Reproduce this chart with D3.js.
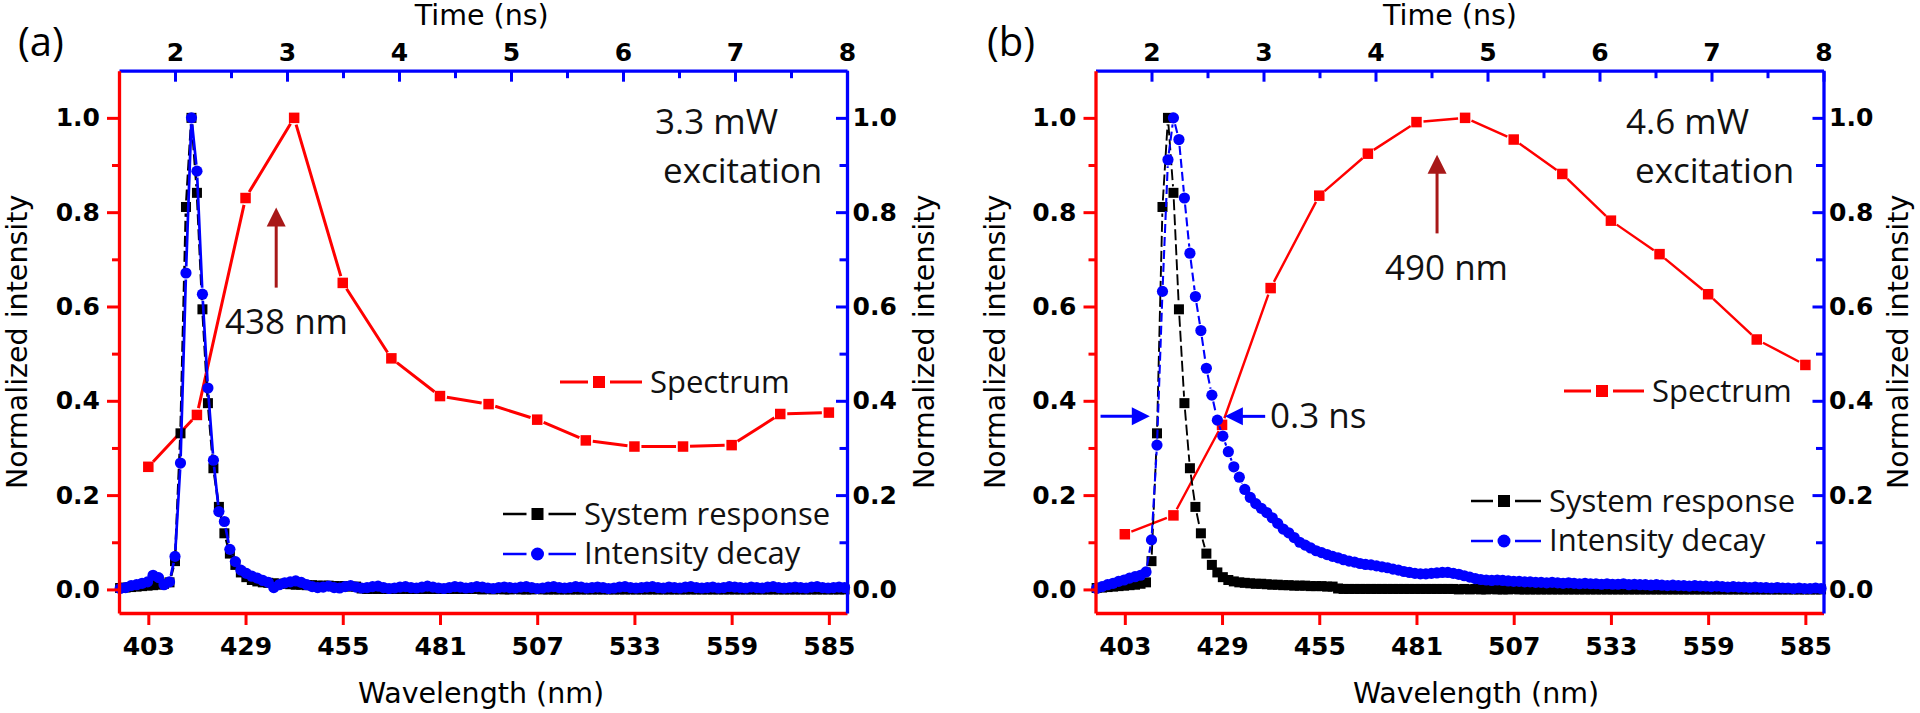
<!doctype html>
<html>
<head>
<meta charset="UTF-8">
<title>Spectrum and intensity decay</title>
<script src="https://d3js.org/d3.v7.min.js"></script>
<style>
  body { margin: 0; background: #fff; }
  svg { display: block; }
  .tick text { font-family: "DejaVu Sans", sans-serif; font-weight: bold; font-size: 25px; fill: #000; }
  .title { font-family: "DejaVu Sans", sans-serif; font-size: 28.5px; fill: #000; }
  .note { font-family: "Open Sans", sans-serif; font-size: 35px; fill: #111; }
  .legend { font-family: "Open Sans", sans-serif; font-size: 31px; fill: #111; }
  .tag { font-family: "Open Sans", sans-serif; font-size: 40px; fill: #000; }
</style>
</head>
<body>
<svg id="chart" width="1920" height="713"></svg>
<script>
// tick values
const wavelengthTicks = [403, 429, 455, 481, 507, 533, 559, 585];
const timeTicks = [2, 3, 4, 5, 6, 7, 8];
const timeMinorTicks = [2.5, 3.5, 4.5, 5.5, 6.5, 7.5];
const intensityTicks = [0, 0.2, 0.4, 0.6, 0.8, 1.0];
const intensityMinorTicks = [0.1, 0.3, 0.5, 0.7, 0.9];

// emission spectra (bottom wavelength axis)
const spectrumWavelength = [403, 416, 429, 442, 455, 468, 481, 494, 507, 520, 533, 546, 559, 572, 585];
const spectrumA = [0.26, 0.37, 0.83, 1.0, 0.65, 0.49, 0.41, 0.393, 0.36, 0.316, 0.303, 0.303, 0.306, 0.372, 0.375];
const spectrumB = [0.117, 0.157, 0.349, 0.639, 0.835, 0.924, 0.991, 1.0, 0.954, 0.881, 0.782, 0.711, 0.626, 0.530, 0.476];

// time-resolved traces (top time axis), sampled every decayStep ns
const decayStart = 1.51;
const decayStep = 0.049;
const systemResponse = [
  0.003, 0.004, 0.005, 0.006, 0.007, 0.008, 0.009, 0.010, 0.012, 0.015,
  0.060, 0.331, 0.811, 1.000, 0.841, 0.594, 0.395, 0.257, 0.175, 0.119,
  0.076, 0.052, 0.036, 0.026, 0.020, 0.017, 0.015, 0.014, 0.013, 0.012,
  0.012, 0.011, 0.010, 0.010, 0.009, 0.009, 0.008, 0.008, 0.008, 0.007,
  0.007, 0.007, 0.006, 0.006, 0.002, 0.001, 0.001, 0.001, 0.001, 0.001,
  0.001, 0.001, 0.001, 0.001, 0.001, 0.001, 0.001, 0.001, 0.001, 0.001,
  0.001, 0.001, 0.001, 0.001, 0.001, 0.001, 0.000, 0.001, 0.000, 0.001,
  0.000, 0.000, 0.001, 0.000, 0.000, 0.000, 0.001, 0.000, 0.000, 0.000,
  0.000, 0.000, 0.000, 0.000, 0.000, 0.000, 0.000, 0.000, 0.000, 0.000,
  0.000, 0.000, 0.000, 0.000, 0.000, 0.000, 0.000, 0.000, 0.000, 0.000,
  0.000, 0.000, 0.000, 0.000, 0.000, 0.000, 0.000, 0.000, 0.000, 0.000,
  0.000, 0.000, 0.000, 0.000, 0.000, 0.000, 0.000, 0.000, 0.000, 0.000,
  0.000, 0.000, 0.000, 0.000, 0.000, 0.000, 0.000, 0.000, 0.000, 0.000,
  0.000, 0.000, 0.000
];
const decayA = [
  0.002, 0.004, 0.008, 0.010, 0.013, 0.016, 0.030, 0.025, 0.010, 0.016,
  0.070, 0.268, 0.671, 1.000, 0.887, 0.626, 0.427, 0.274, 0.165, 0.144,
  0.085, 0.059, 0.041, 0.034, 0.028, 0.024, 0.019, 0.015, 0.004, 0.010,
  0.014, 0.016, 0.018, 0.015, 0.010, 0.006, 0.004, 0.005, 0.007, 0.004,
  0.003, 0.006, 0.008, 0.005, 0.003, 0.004, 0.006, 0.007, 0.004, 0.002,
  0.003, 0.005, 0.006, 0.004, 0.003, 0.005, 0.007, 0.005, 0.003, 0.002,
  0.004, 0.006, 0.005, 0.003, 0.004, 0.006, 0.005, 0.003, 0.002, 0.004,
  0.005, 0.004, 0.003, 0.005, 0.006, 0.004, 0.002, 0.003, 0.005, 0.006,
  0.004, 0.003, 0.004, 0.006, 0.005, 0.003, 0.004, 0.005, 0.004, 0.002,
  0.003, 0.005, 0.006, 0.004, 0.003, 0.004, 0.005, 0.006, 0.004, 0.003,
  0.005, 0.004, 0.003, 0.005, 0.006, 0.004, 0.003, 0.004, 0.005, 0.003,
  0.004, 0.006, 0.005, 0.004, 0.003, 0.005, 0.004, 0.003, 0.005, 0.006,
  0.004, 0.003, 0.004, 0.005, 0.004, 0.003, 0.005, 0.006, 0.004, 0.003,
  0.004, 0.005, 0.004
];
const decayB = [
  0.002, 0.006, 0.010, 0.013, 0.017, 0.020, 0.024, 0.027, 0.030, 0.037,
  0.105, 0.306, 0.632, 0.911, 1.000, 0.954, 0.830, 0.713, 0.621, 0.549,
  0.469, 0.412, 0.359, 0.325, 0.292, 0.260, 0.238, 0.212, 0.195, 0.182,
  0.172, 0.163, 0.152, 0.140, 0.128, 0.120, 0.110, 0.100, 0.094, 0.088,
  0.082, 0.078, 0.074, 0.070, 0.067, 0.063, 0.060, 0.058, 0.055, 0.053,
  0.052, 0.050, 0.048, 0.046, 0.043, 0.041, 0.038, 0.036, 0.034, 0.033,
  0.033, 0.034, 0.035, 0.036, 0.036, 0.034, 0.032, 0.029, 0.026, 0.023,
  0.021, 0.020, 0.019, 0.020, 0.019, 0.018, 0.017, 0.017, 0.016, 0.016,
  0.015, 0.015, 0.014, 0.015, 0.014, 0.013, 0.014, 0.013, 0.012, 0.013,
  0.012, 0.012, 0.011, 0.012, 0.011, 0.011, 0.012, 0.010, 0.011, 0.010,
  0.010, 0.009, 0.010, 0.009, 0.008, 0.009, 0.008, 0.008, 0.007, 0.008,
  0.007, 0.007, 0.006, 0.007, 0.006, 0.005, 0.006, 0.005, 0.005, 0.004,
  0.005, 0.004, 0.004, 0.003, 0.004, 0.003, 0.003, 0.002, 0.003, 0.002,
  0.002, 0.003, 0.002
];

const RED = "#ff0000", BLUE = "#0000ff", DARKRED = "#a81818";
const W = 728, H = 542.3, TOP = 70.7;

const panels = [
  {
    left: 119, tag: "(a)", tagX: 18, spectrum: spectrumA, decay: decayA,
    power: "3.3 mW", powerX: 655, exciteX: 663,
    peak: "438 nm", peakX: 225, peakY: 334,
    arrow: { wl: 437.2, from: 0.64, to: 0.81 },
    timeTitleX: 481.7, waveTitleX: 481, yTitleL: 27, yTitleR: 934,
    specLegend: { x0: 560, x1: 642, y: 382 },
    traceLegend: { x0: 503, x1: 576, y: 514 },
    lw: 3, blueDash: null
  },
  {
    left: 1095.5, tag: "(b)", tagX: 987, spectrum: spectrumB, decay: decayB,
    power: "4.6 mW", powerX: 1626, exciteX: 1635,
    peak: "490 nm", peakX: 1385, peakY: 280,
    arrow: { wl: 486.5, from: 0.755, to: 0.922 },
    timeTitleX: 1450, waveTitleX: 1476, yTitleL: 1005, yTitleR: 1908,
    specLegend: { x0: 1564, x1: 1644, y: 391 },
    traceLegend: { x0: 1471, x1: 1541, y: 501 },
    lw: 2.4, blueDash: "9,4",
    width: { y: 0.367, tipL: 1.985, tailL: 1.545, tipR: 2.655, tailR: 3.015, text: "0.3 ns", textX: 1270, textY: 428 }
  }
];

const svg = d3.select("#chart");

// line between neighbouring points, cut back near each symbol
function gapPath(pts, gap) {
  let d = "";
  for (let i = 0; i < pts.length - 1; i++) {
    const [x1, y1] = pts[i], [x2, y2] = pts[i + 1];
    const dx = x2 - x1, dy = y2 - y1, len = Math.hypot(dx, dy);
    if (len <= 2 * gap) continue;
    const ux = dx / len, uy = dy / len;
    d += `M${x1 + ux * gap},${y1 + uy * gap}L${x2 - ux * gap},${y2 - uy * gap}`;
  }
  return d;
}

function squares(g, pts, size, color) {
  g.selectAll(null).data(pts).enter().append("rect")
    .attr("x", d => d[0] - size / 2).attr("y", d => d[1] - size / 2)
    .attr("width", size).attr("height", size).attr("fill", color);
}

function circles(g, pts, r, color) {
  g.selectAll(null).data(pts).enter().append("circle")
    .attr("cx", d => d[0]).attr("cy", d => d[1]).attr("r", r).attr("fill", color);
}

function styleAxis(g, color) {
  g.attr("color", color);
  g.select(".domain").attr("stroke-width", 3.3);
  g.selectAll(".tick line").attr("stroke-width", 3);
}

function legendRow(x0, x1, y, color, lw, marker, label, textDy) {
  const mid = (x0 + x1) / 2 - 2, half = 6, gap = 5;
  svg.append("path")
    .attr("d", `M${x0},${y}L${mid - half - gap},${y}M${mid + half + gap},${y}L${x1},${y}`)
    .attr("stroke", color).attr("stroke-width", lw).attr("fill", "none");
  if (marker === "square") {
    svg.append("rect").attr("x", mid - half).attr("y", y - half)
      .attr("width", 2 * half).attr("height", 2 * half).attr("fill", color);
  } else {
    svg.append("circle").attr("cx", mid).attr("cy", y).attr("r", half + 0.5).attr("fill", color);
  }
  svg.append("text").attr("class", "legend")
    .attr("x", x1 + 8).attr("y", y + textDy).text(label);
}

function vArrow(x, yTail, yTip, color) {
  svg.append("line").attr("x1", x).attr("x2", x).attr("y1", yTail).attr("y2", yTip + 17)
    .attr("stroke", color).attr("stroke-width", 3);
  svg.append("path").attr("d", `M${x},${yTip}L${x - 9.5},${yTip + 19}L${x + 9.5},${yTip + 19}Z`)
    .attr("fill", color);
}

function hArrow(xTail, xTip, y, color) {
  const s = Math.sign(xTip - xTail);
  svg.append("line").attr("x1", xTail).attr("x2", xTip - s * 15).attr("y1", y).attr("y2", y)
    .attr("stroke", color).attr("stroke-width", 3);
  svg.append("path").attr("d", `M${xTip},${y}L${xTip - s * 18},${y - 9}L${xTip - s * 18},${y + 9}Z`)
    .attr("fill", color);
}

panels.forEach(p => {
  const x = d3.scaleLinear().domain([395.16, 589.85]).range([p.left, p.left + W]);
  const t = d3.scaleLinear().domain([1.5, 8]).range([p.left, p.left + W]);
  const y = d3.scaleLinear().domain([-0.05, 1.1]).range([TOP + H, TOP]);

  const specPts = spectrumWavelength.map((w, i) => [x(w), y(p.spectrum[i])]);
  const sysPts = systemResponse.map((v, i) => [t(decayStart + i * decayStep), y(v)]);
  const decPts = p.decay.map((v, i) => [t(decayStart + i * decayStep), y(v)]);

  const plot = svg.append("g");
  // spectrum
  plot.append("path").attr("d", gapPath(specPts, 7))
    .attr("stroke", RED).attr("stroke-width", p.lw).attr("fill", "none");
  squares(plot, specPts, 10.5, RED);
  // system response
  plot.append("path").attr("d", gapPath(sysPts, 6.5))
    .attr("stroke", "#000").attr("stroke-width", p.lw - 0.5).attr("stroke-dasharray", "11,4").attr("fill", "none");
  squares(plot, sysPts, 10, "#000");
  // intensity decay
  plot.append("path").attr("d", gapPath(decPts, 6.5))
    .attr("stroke", BLUE).attr("stroke-width", p.lw - 0.3).attr("stroke-dasharray", p.blueDash).attr("fill", "none");
  circles(plot, decPts, 5.6, BLUE);

  // axes: blue top/right for time trace, red left/bottom for spectrum
  const top = svg.append("g").attr("transform", `translate(0,${TOP})`);
  top.call(d3.axisTop(t).tickValues(timeMinorTicks).tickSize(-7.5).tickSizeOuter(0).tickFormat(""));
  top.select(".domain").remove();
  styleAxis(top, BLUE);
  const topMajor = svg.append("g").attr("transform", `translate(0,${TOP})`)
    .call(d3.axisTop(t).tickValues(timeTicks).tickSize(-11).tickSizeOuter(0).tickPadding(10).tickFormat(d3.format("d")));
  styleAxis(topMajor, BLUE);

  const leftMinor = svg.append("g").attr("transform", `translate(${p.left},0)`)
    .call(d3.axisLeft(y).tickValues(intensityMinorTicks).tickSize(7).tickSizeOuter(0).tickFormat(""));
  leftMinor.select(".domain").remove();
  styleAxis(leftMinor, RED);
  const left = svg.append("g").attr("transform", `translate(${p.left},0)`)
    .call(d3.axisLeft(y).tickValues(intensityTicks).tickSize(12).tickSizeOuter(0).tickPadding(7).tickFormat(d3.format(".1f")));
  styleAxis(left, RED);

  const bottom = svg.append("g").attr("transform", `translate(0,${TOP + H})`)
    .call(d3.axisBottom(x).tickValues(wavelengthTicks).tickSize(12).tickSizeOuter(0).tickPadding(12.3).tickFormat(d3.format("d")));
  styleAxis(bottom, RED);

  const rightMinor = svg.append("g").attr("transform", `translate(${p.left + W},0)`)
    .call(d3.axisRight(y).tickValues(intensityMinorTicks).tickSize(-7.5).tickSizeOuter(0).tickFormat(""));
  rightMinor.select(".domain").remove();
  styleAxis(rightMinor, BLUE);
  const right = svg.append("g").attr("transform", `translate(${p.left + W},0)`)
    .call(d3.axisRight(y).tickValues(intensityTicks).tickSize(-11).tickSizeOuter(0).tickPadding(5.5).tickFormat(d3.format(".1f")));
  styleAxis(right, BLUE);

  // titles
  svg.append("text").attr("class", "title").attr("x", p.timeTitleX).attr("y", 25)
    .attr("text-anchor", "middle").text("Time (ns)");
  svg.append("text").attr("class", "title").attr("x", p.waveTitleX).attr("y", 703)
    .attr("text-anchor", "middle").text("Wavelength (nm)");
  [p.yTitleL, p.yTitleR].forEach(bx => {
    svg.append("text").attr("class", "title").attr("text-anchor", "middle")
      .attr("transform", `translate(${bx},${TOP + H / 2}) rotate(-90)`).text("Normalized intensity");
  });
  svg.append("text").attr("class", "tag").attr("x", p.tagX).attr("y", 56).text(p.tag);

  // annotations
  svg.append("text").attr("class", "note").attr("x", p.powerX).attr("y", 133.5).text(p.power);
  svg.append("text").attr("class", "note").attr("x", p.exciteX).attr("y", 182.5).text("excitation");
  svg.append("text").attr("class", "note").attr("x", p.peakX).attr("y", p.peakY).text(p.peak);
  vArrow(x(p.arrow.wl), y(p.arrow.from), y(p.arrow.to), DARKRED);

  if (p.width) {
    const wy = y(p.width.y);
    hArrow(t(p.width.tailL), t(p.width.tipL), wy, BLUE);
    hArrow(t(p.width.tailR), t(p.width.tipR), wy, BLUE);
    svg.append("text").attr("class", "note").attr("x", p.width.textX).attr("y", p.width.textY).text(p.width.text);
  }

  // legends
  legendRow(p.specLegend.x0, p.specLegend.x1, p.specLegend.y, RED, 3, "square", "Spectrum", 11);
  legendRow(p.traceLegend.x0, p.traceLegend.x1, p.traceLegend.y, "#000", 2.5, "square", "System response", 11);
  legendRow(p.traceLegend.x0, p.traceLegend.x1, p.traceLegend.y + 40, BLUE, 2.5, "circle", "Intensity decay", 10);
});
</script>
</body>
</html>
